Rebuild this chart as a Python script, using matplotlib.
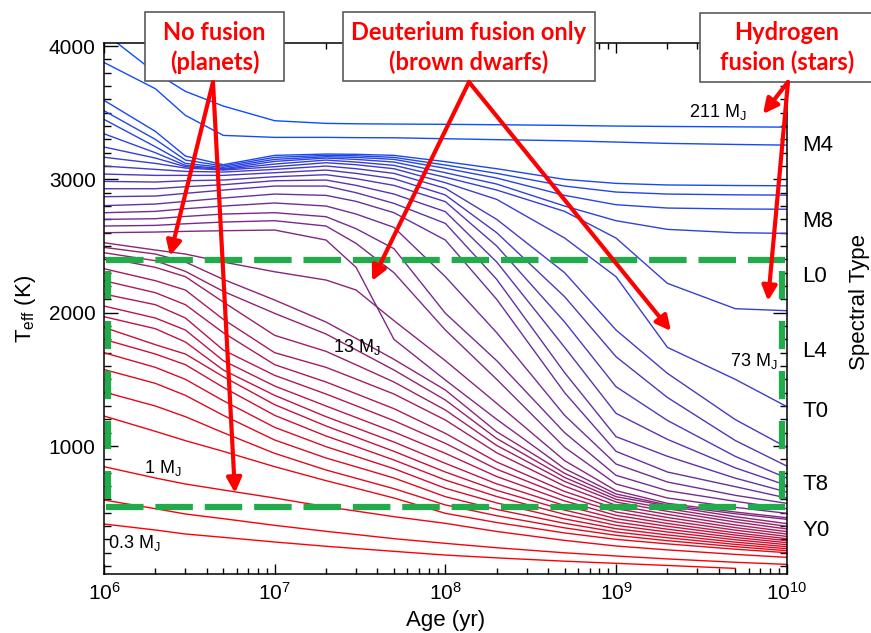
import numpy as np
import matplotlib.pyplot as plt
from matplotlib.patches import Rectangle, FancyArrowPatch
from matplotlib.ticker import MultipleLocator

plt.rcParams['font.family'] = ['Liberation Sans', 'DejaVu Sans']
plt.rcParams['mathtext.fontset'] = 'custom'
plt.rcParams['mathtext.rm'] = 'Liberation Sans'
plt.rcParams['mathtext.it'] = 'Liberation Sans:italic'
plt.rcParams['mathtext.bf'] = 'Liberation Sans:bold'

nan = np.nan

age = [1e6, 2e6, 3e6, 5e6, 1e7, 2e7, 3e7, 5e7, 1e8, 2e8, 5e8, 1e9, 2e9, 5e9, 1e10]

# Teff (K) tracks, lowest mass first
teff_0p3 = [415, 370, 340, 315, 280, 248, 231, 210, 182, 161, 136, 120, 104, 82, nan]
teff_0p5 = [595, 530, 490, 455, 405, 360, 336, 305, 270, 237, 199, 175, 153, 128, 112]
teff_1 = [845, 760, 715, 670, 610, 545, 512, 470, 420, 359, 292, 250, 221, 187, 165]
teff_2 = [1225, 1110, 1040, 960, 845, 740, 683, 610, 495, 426, 348, 300, 266, 226, 200]
teff_3 = [1405, 1300, 1220, 1100, 945, 820, 758, 680, 558, 477, 386, 330, 290, 245, 215]
teff_4 = [1574, 1470, 1380, 1230, 1045, 910, 844, 760, 620, 524, 420, 355, 312, 262, 230]
teff_5 = [1700, 1590, 1500, 1340, 1140, 995, 922, 830, 683, 573, 453, 380, 333, 279, 245]
teff_6 = [1800, 1690, 1610, 1440, 1230, 1075, 996, 895, 745, 621, 487, 405, 355, 297, 260]
teff_7 = [1890, 1760, 1690, 1520, 1310, 1150, 1066, 960, 805, 667, 519, 430, 376, 314, 275]
teff_8 = [1970, 1880, 1780, 1570, 1380, 1220, 1136, 1030, 870, 716, 553, 455, 398, 332, 290]
teff_9 = [2050, 1960, 1870, 1640, 1450, 1300, 1214, 1105, 945, 771, 588, 480, 419, 349, 305]
teff_10 = [2140, 2060, 1960, 1720, 1530, 1390, 1302, 1190, 1020, 826, 624, 505, 441, 369, 322]
teff_11 = [2240, 2150, 2060, 1850, 1610, 1480, 1392, 1280, 1095, 880, 659, 530, 464, 388, 340]
teff_12 = [2330, 2240, 2170, 1950, 1700, 1590, 1502, 1390, 1195, 949, 699, 555, 487, 408, 358]
teff_13 = [2415, 2340, 2270, 2080, 1830, 1710, 1609, 1480, 1270, 1004, 734, 580, 510, 430, 378]
teff_14 = [2450, 2390, 2310, 2160, 1995, 1840, 1721, 1570, 1345, 1056, 764, 600, 530, 450, 398]
teff_15 = [2490, 2440, 2380, 2250, 2095, 1930, 1807, 1650, 1420, 1107, 795, 620, 551, 470, 418]
teff_17 = [2525, 2470, 2440, 2380, 2307, 2245, 2170, 1940, 1640, 1320, 890, 665, 570, 505, 462]
teff_20 = [2600, 2605, 2610, 2615, 2620, 2545, 2340, 1800, 1495, 1200, 830, 640, 558, 492, 450]
teff_25 = [2650, 2655, 2667, 2680, 2690, 2650, 2520, 2300, 1870, 1500, 990, 715, 610, 540, 495]
teff_30 = [2700, 2705, 2722, 2740, 2750, 2720, 2630, 2480, 1996, 1640, 1100, 780, 665, 585, 530]
teff_35 = [2750, 2760, 2780, 2800, 2823, 2800, 2740, 2640, 2270, 1850, 1230, 865, 730, 630, 570]
teff_40 = [2803, 2815, 2835, 2860, 2890, 2880, 2835, 2750, 2545, 2100, 1400, 960, 805, 695, 610]
teff_45 = [2870, 2875, 2895, 2920, 2950, 2950, 2900, 2820, 2670, 2250, 1550, 1070, 923, 759, 655]
teff_50 = [2930, 2930, 2945, 2960, 2990, 2995, 2955, 2890, 2758, 2380, 1740, 1245, 1050, 836, 705]
teff_55 = [2985, 2980, 2990, 2995, 3020, 3035, 3005, 2955, 2833, 2500, 1930, 1445, 1192, 922, 760]
teff_60 = [3040, 3030, 3030, 3030, 3050, 3070, 3045, 3005, 2883, 2600, 2120, 1670, 1364, 1041, 850]
teff_65 = [3100, 3075, 3060, 3055, 3075, 3100, 3080, 3045, 2933, 2700, 2300, 1870, 1545, 1198, 990]
teff_73 = [3166, 3120, 3085, 3070, 3095, 3125, 3110, 3080, 2975, 2850, 2560, 2270, 1740, 1500, 1296]
teff_75 = [3243, 3160, 3095, 3075, 3115, 3145, 3130, 3105, 3016, 2920, 2760, 2560, 2220, 2030, 2015]
teff_80 = [3342, 3200, 3105, 3080, 3135, 3160, 3150, 3130, 3050, 2965, 2800, 2690, 2625, 2600, 2595]
teff_90 = [3450, 3245, 3120, 3090, 3150, 3170, 3165, 3150, 3083, 3010, 2880, 2810, 2785, 2778, 2776]
teff_100 = [3515, 3300, 3145, 3100, 3165, 3180, 3177, 3165, 3108, 3045, 2950, 2905, 2890, 2884, 2882]
teff_120 = [3593, 3360, 3175, 3110, 3180, 3190, 3188, 3180, 3133, 3080, 3000, 2970, 2958, 2954, 2952]
teff_150 = [3877, 3680, 3480, 3330, 3315, 3315, 3313, 3312, 3305, 3298, 3290, 3280, 3270, 3262, 3257]
teff_211 = [4100, 3800, 3660, 3550, 3440, 3420, 3417, 3415, 3413, 3410, 3405, 3400, 3397, 3394, 3392]

tracks = [teff_0p3, teff_0p5, teff_1, teff_2, teff_3, teff_4, teff_5, teff_6,
          teff_7, teff_8, teff_9, teff_10, teff_11, teff_12, teff_13, teff_14,
          teff_15, teff_17, teff_20, teff_25, teff_30, teff_35, teff_40,
          teff_45, teff_50, teff_55, teff_60, teff_65, teff_73, teff_75,
          teff_80, teff_90, teff_100, teff_120, teff_150, teff_211]

# spectral types on the right
spec_types = ['M4', 'M8', 'L0', 'L4', 'T0', 'T8', 'Y0']
spec_teff = [3257, 2682, 2270, 1707, 1257, 715, 370]

# the dashed brown-dwarf box
box_teff_top = 2395
box_teff_bottom = 540

W, H = 871, 633
fig = plt.figure(figsize=(W / 100, H / 100), dpi=100)
ax = fig.add_axes([104 / W, 1 - 574 / H, (786.7 - 104) / W, (574 - 43.4) / H])

red = np.array([1.0, 0.0, 0.0])
blue = np.array([0.05, 0.3, 1.0])
n = len(tracks)
for i, t in enumerate(tracks):
    f = i / (n - 1)
    ax.plot(age, t, color=(1 - f) * red + f * blue, lw=1.0, zorder=2)

ax.set_xscale('log')
ax.set_xlim(1e6, 1e10)
ax.set_ylim(40, 4020)
ax.yaxis.set_major_locator(MultipleLocator(1000))
ax.yaxis.set_minor_locator(MultipleLocator(100))
ax.tick_params(which='both', direction='in', top=True, right=True, width=1.0,
               labelsize=15)
ax.tick_params(axis='y', which='major', length=10, pad=6)
ax.tick_params(axis='y', which='minor', length=5)
ax.tick_params(axis='x', which='major', length=7, pad=6)
ax.tick_params(axis='x', which='minor', length=4)
for s in ax.spines.values():
    s.set_linewidth(1.1)

ax.set_xlabel('Age (yr)', fontsize=16, labelpad=4)
ax.set_ylabel(r'T$_\mathregular{eff}$ (K)', fontsize=16, labelpad=8)

# green dashed box
green = '#22ab4b'
ytr = ax.get_yaxis_transform()
for yv in (box_teff_top, box_teff_bottom):
    ax.plot([0.003, 0.997], [yv, yv], transform=ytr, color=green, lw=4.5,
            ls=(0, (6.0, 1.9)), zorder=3)
for xv in (0.006, 0.993):
    ax.plot([xv, xv], [box_teff_top - 80, box_teff_bottom], transform=ytr,
            color=green, lw=4.5, ls=(0, (4.5, 3.5)), zorder=3)

# spectral types
for s, tv in zip(spec_types, spec_teff):
    ax.text(1.0225, tv, s, transform=ytr, ha='left', va='center', fontsize=16)
fig.text(859 / W, 1 - 302 / H, 'Spectral Type', rotation=90, ha='center',
         va='center', fontsize=16)

# mass labels
mlab = dict(fontsize=13, ha='center', va='center', zorder=5)
ax.text(3.95e9, 3505, r'211 M$_\mathregular{J}$', **mlab)
ax.text(6.43e9, 1637, r'73 M$_\mathregular{J}$', **mlab)
ax.text(3.03e7, 1745, r'13 M$_\mathregular{J}$', **mlab)
ax.text(2.22e6, 835, r'1 M$_\mathregular{J}$', **mlab)
ax.text(1.5e6, 272, r'0.3 M$_\mathregular{J}$', **mlab)

# annotation boxes (figure pixels)
boxes = [
    (145, 12, 139, 69, 214.5, 'No fusion', '(planets)'),
    (343, 12, 252, 69, 469, 'Deuterium fusion only', '(brown dwarfs)'),
    (700, 13, 185, 69, 787, 'Hydrogen', 'fusion (stars)'),
]
for x0, y0, w, h, xc, l1, l2 in boxes:
    fig.add_artist(Rectangle((x0 / W, 1 - (y0 + h) / H), w / W, h / H,
                             transform=fig.transFigure, facecolor='white',
                             edgecolor='#5a5a5a', lw=1.2, zorder=4))
    fig.text(xc / W, 1 - 33 / H, l1, color='#ff0000', fontsize=17,
             family=['Lato', 'DejaVu Sans'], weight='bold',
             ha='center', va='center', zorder=5)
    fig.text(xc / W, 1 - 62 / H, l2, color='#ff0000', fontsize=17,
             family=['Lato', 'DejaVu Sans'], weight='bold',
             ha='center', va='center', zorder=5)

arrows = [
    ((213, 82), (170, 256)),
    ((213, 82), (235, 493)),
    ((469, 82), (372, 281)),
    ((469, 82), (671, 331)),
    ((788, 82), (763, 114)),
    ((788, 82), (768, 301)),
]
for (xa, ya), (xb, yb) in arrows:
    fig.add_artist(FancyArrowPatch((xa / W, 1 - ya / H), (xb / W, 1 - yb / H),
                                   transform=fig.transFigure,
                                   arrowstyle='-|>', mutation_scale=22,
                                   lw=3.0, color='#ff0000', shrinkA=0,
                                   shrinkB=0, zorder=6))

fig.savefig('out.png', dpi=100)
